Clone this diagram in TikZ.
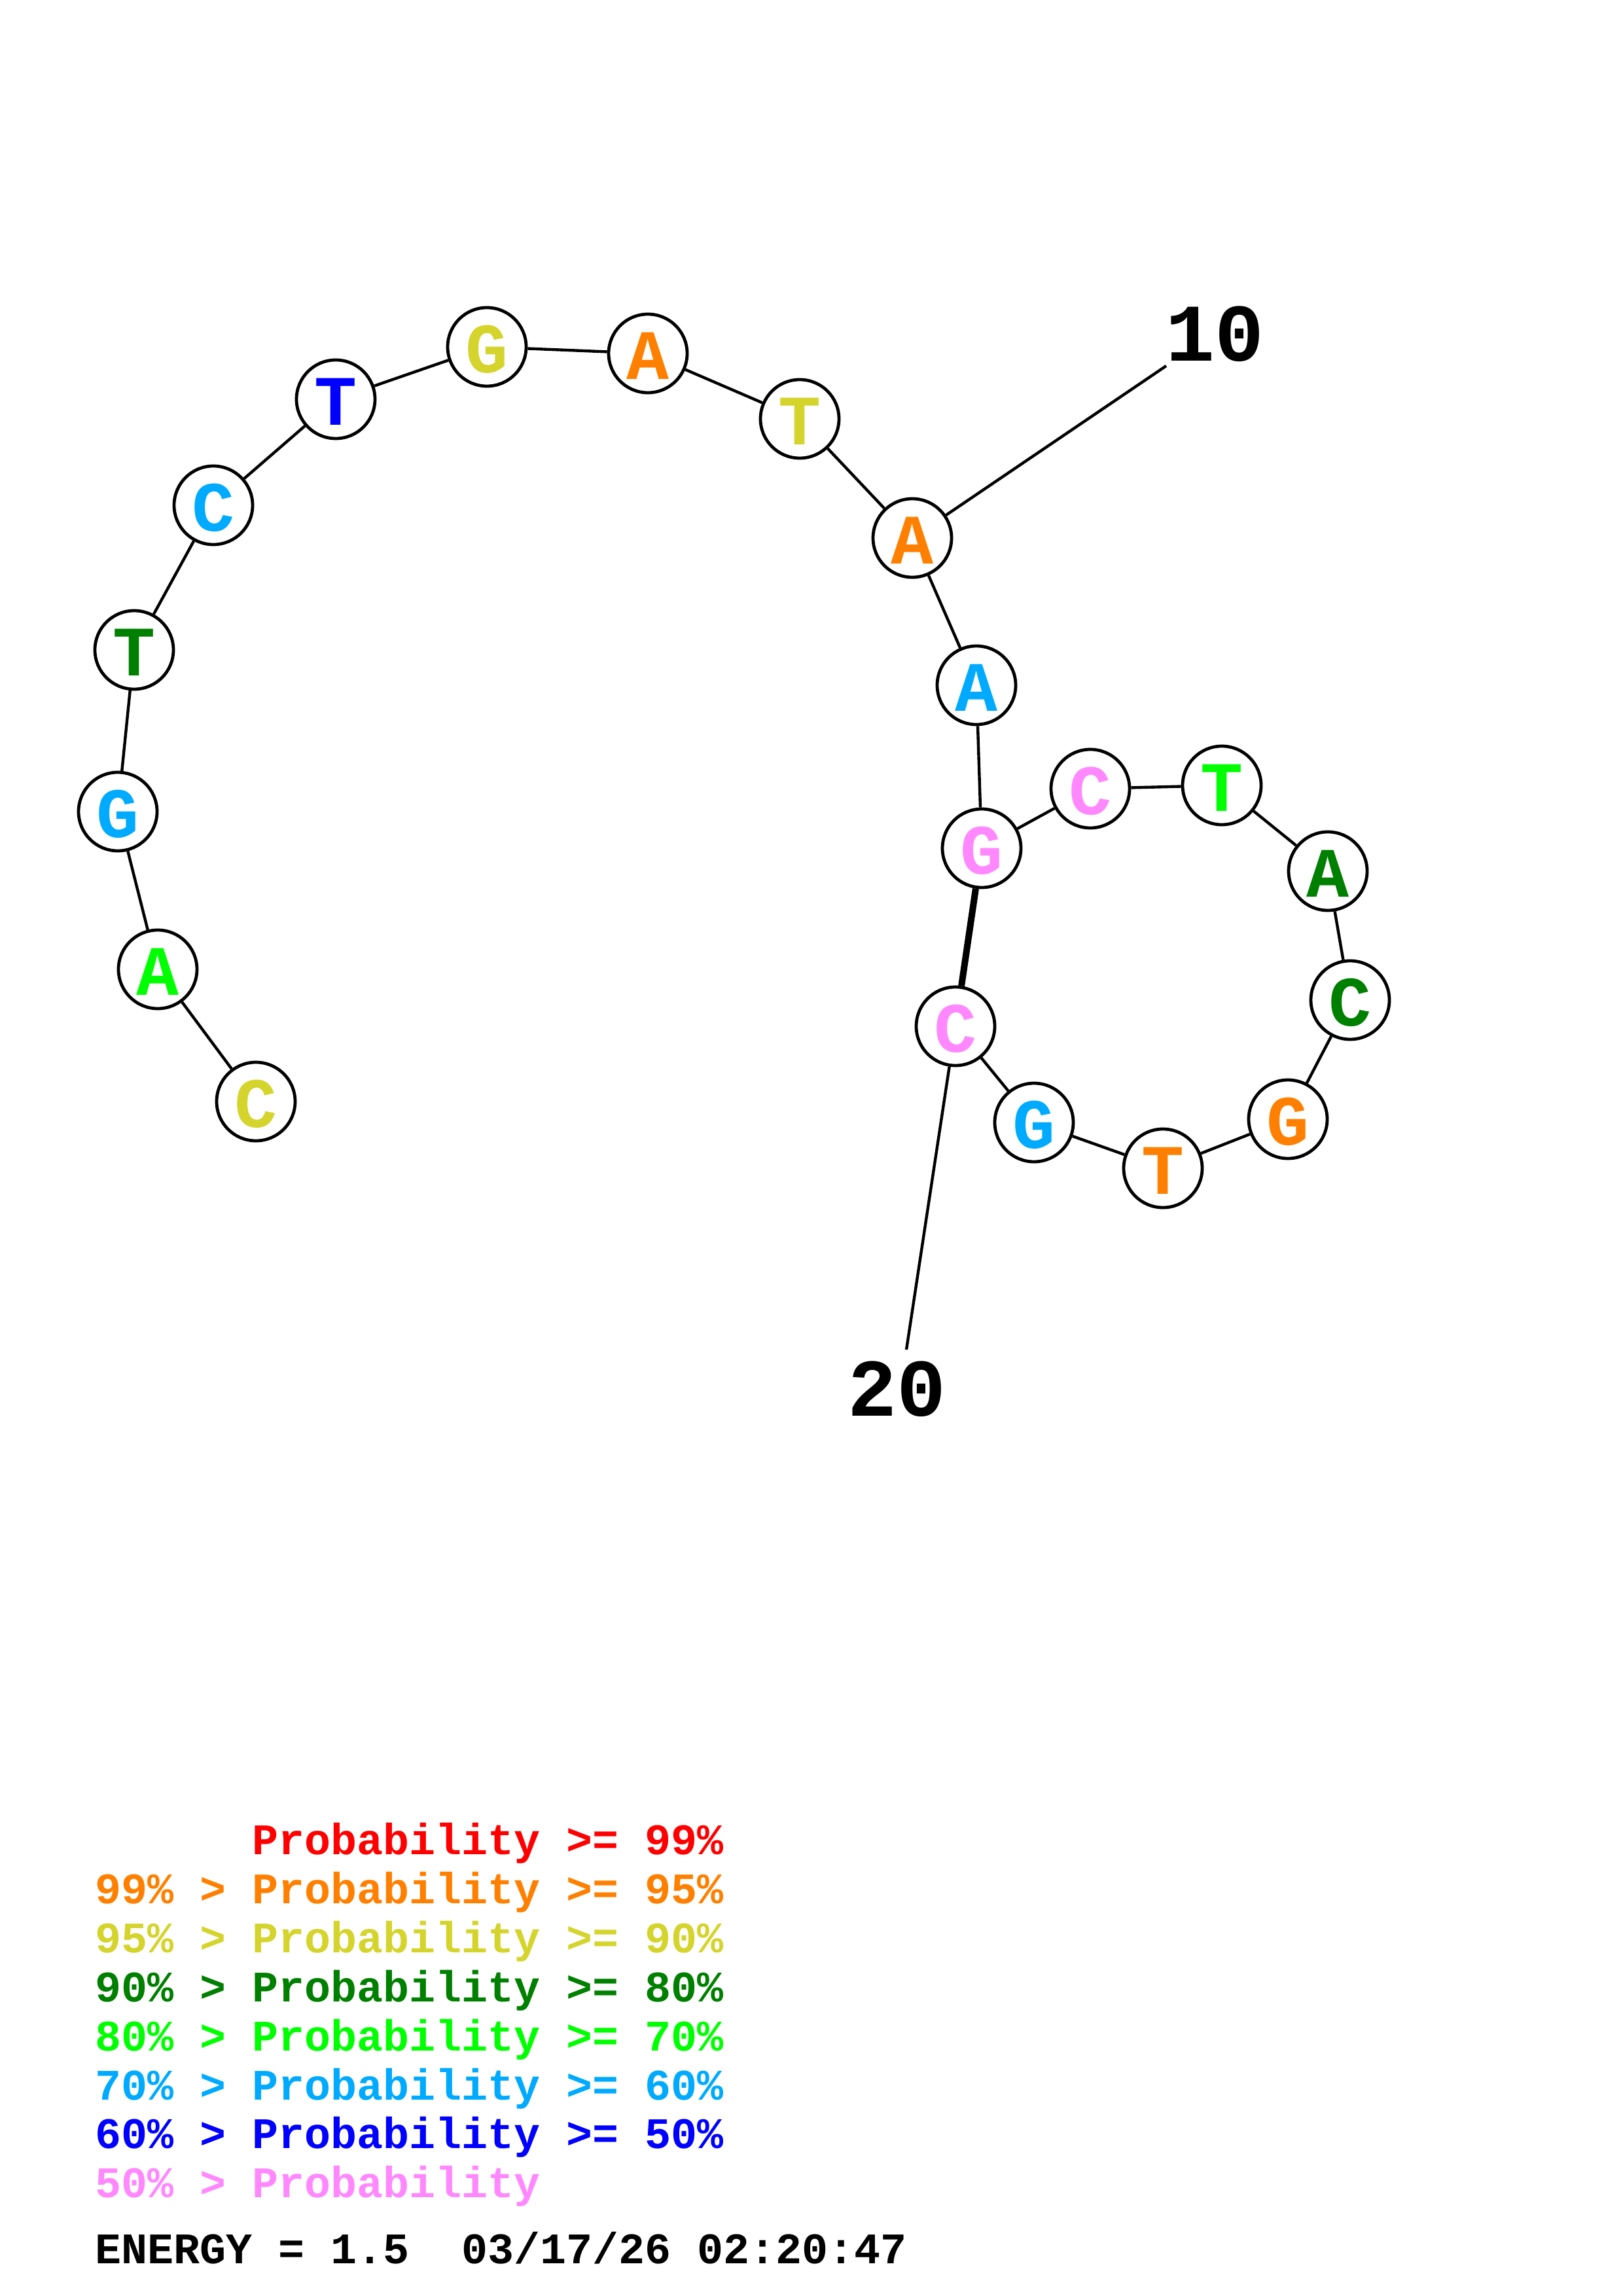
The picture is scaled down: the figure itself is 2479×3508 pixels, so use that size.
\documentclass[tikz,border=0pt]{standalone}
\usepackage{fontspec}
\newfontfamily\cour{Liberation Mono}
\definecolor{pred}{RGB}{255,0,0}
\definecolor{porange}{RGB}{255,128,0}
\definecolor{pyellow}{RGB}{212,212,44}
\definecolor{pdgreen}{RGB}{0,128,0}
\definecolor{pgreen}{RGB}{0,255,0}
\definecolor{pcyan}{RGB}{0,170,255}
\definecolor{pblue}{RGB}{0,0,255}
\definecolor{ppink}{RGB}{255,136,255}
\tikzset{
  base/.style={circle,draw=black,line width=1.15pt,fill=white,minimum size=28.8pt,inner sep=0pt,
    font=\cour\bfseries\fontsize{26}{26}\selectfont,text height=19pt,text depth=0pt},
  bond/.style={line width=1.05pt},
  pair/.style={line width=2.4pt},
  numlab/.style={font=\cour\bfseries\fontsize{30}{30}\selectfont,inner sep=0pt,anchor=base},
  legend/.style={font=\cour\bfseries\fontsize{16}{16}\selectfont,inner sep=0pt,anchor=base west}
}
\begin{document}
\begin{tikzpicture}[x=0.24pt,y=-0.24pt]
\useasboundingbox (0,0) rectangle (2479,3508);
\node[base,text=pyellow] (n1) at (391,1683) {C};
\node[base,text=pgreen] (n2) at (241,1481) {A};
\node[base,text=pcyan] (n3) at (180,1240) {G};
\node[base,text=pdgreen] (n4) at (205,993) {T};
\node[base,text=pcyan] (n5) at (326,772) {C};
\node[base,text=pblue] (n6) at (513,610) {T};
\node[base,text=pyellow] (n7) at (744,530) {G};
\node[base,text=porange] (n8) at (990,540) {A};
\node[base,text=pyellow] (n9) at (1222,640) {T};
\node[base,text=porange] (n10) at (1394,822) {A};
\node[base,text=pcyan] (n11) at (1492,1047) {A};
\node[base,text=ppink] (n12) at (1500,1296) {G};
\node[base,text=ppink] (n13) at (1666,1205) {C};
\node[base,text=pgreen] (n14) at (1867,1200) {T};
\node[base,text=pdgreen] (n15) at (2029,1331) {A};
\node[base,text=pdgreen] (n16) at (2063,1528) {C};
\node[base,text=porange] (n17) at (1968,1710) {G};
\node[base,text=porange] (n18) at (1777,1785) {T};
\node[base,text=pcyan] (n19) at (1580,1715) {G};
\node[base,text=ppink] (n20) at (1460,1568) {C};
\foreach \a/\b in {n1/n2,n2/n3,n3/n4,n4/n5,n5/n6,n6/n7,n7/n8,n8/n9,n9/n10,n10/n11,n11/n12,n12/n13,n13/n14,n14/n15,n15/n16,n16/n17,n17/n18,n18/n19,n19/n20}
  \draw[bond] (\a) -- (\b);
\draw[pair] (n12) -- (n20);
\coordinate (t10) at (1782,559);
\coordinate (t20) at (1385,2062);
\draw[bond] (n10) -- (t10);
\draw[bond] (n20) -- (t20);
\node[numlab] (l10) at (1856,552) {10};
\node[numlab] (l20) at (1370,2163) {20};
\node[legend,text=pred] (g1) at (385,2833) {Probability >= 99\%};
\node[legend,text=porange] (g2) at (145,2908) {99\% > Probability >= 95\%};
\node[legend,text=pyellow] (g3) at (145,2983) {95\% > Probability >= 90\%};
\node[legend,text=pdgreen] (g4) at (145,3058) {90\% > Probability >= 80\%};
\node[legend,text=pgreen] (g5) at (145,3133) {80\% > Probability >= 70\%};
\node[legend,text=pcyan] (g6) at (145,3208) {70\% > Probability >= 60\%};
\node[legend,text=pblue] (g7) at (145,3282) {60\% > Probability >= 50\%};
\node[legend,text=ppink] (g8) at (145,3357) {50\% > Probability};
\node[legend,text=black] (en) at (145,3458) {ENERGY = 1.5\ \ 03/17/26 02:20:47};
\end{tikzpicture}
\end{document}
